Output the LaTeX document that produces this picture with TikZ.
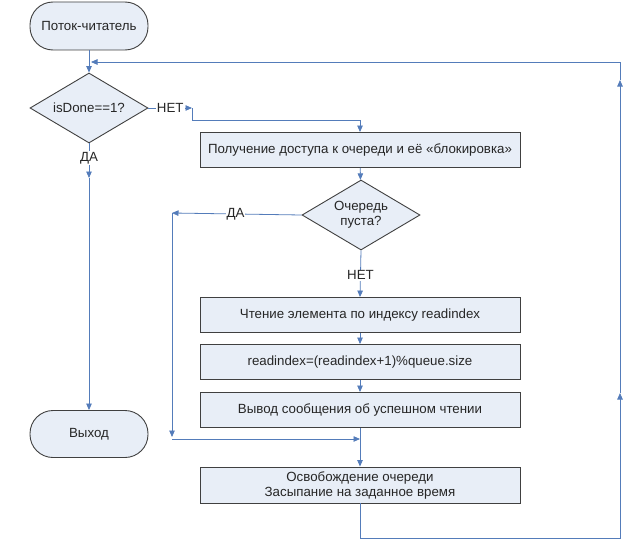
\documentclass[tikz,border=0pt]{standalone}
\usepackage{fontspec}
\setmainfont{Liberation Sans}
\usetikzlibrary{shapes.geometric}
\usetikzlibrary{arrows.meta}

\definecolor{boxfill}{RGB}{232,238,247}
\definecolor{boxline}{RGB}{64,64,64}
\definecolor{flowline}{RGB}{84,124,186}

\begin{document}
\begin{tikzpicture}[x=1pt,y=-1pt,
  every node/.style={font=\fontsize{13.3}{15}\selectfont, text=black!85},
  term/.style={draw=boxline, fill=boxfill, line width=0.9pt, rounded corners=23pt, minimum width=118pt, minimum height=48pt, inner sep=0pt},
  cond/.style={draw=boxline, fill=boxfill, line width=0.9pt, diamond, aspect=1.69, minimum width=118pt, minimum height=70pt, inner sep=0pt, align=center},
  proc/.style={draw=boxline, fill=boxfill, line width=0.9pt, minimum width=320pt, minimum height=35pt, inner sep=0pt, align=center},
  flow/.style={draw=flowline, line width=0.8pt, -{Triangle[length=6.5pt,width=5.5pt]}},
  lbl/.style={fill=white, inner sep=1pt}]
\useasboundingbox (0,0) rectangle (642,551);

\node[term] (start) at (89,26) {Поток-читатель};
\node[cond] (isdone) at (89,108) {isDone==1?};
\node[term, minimum height=47pt] (exit) at (89,434) {Выход};

\node[proc] (lock) at (360,150) {Получение доступа к очереди и её «блокировка»};
\node[cond] (empty) at (361,215) {Очередь\\пуста?};
\node[proc] (readel) at (360,315) {Чтение элемента по индексу readindex};
\node[proc] (incr) at (360,362) {readindex=(readindex+1)\%queue.size};
\node[proc] (msg) at (360,410) {Вывод сообщения об успешном чтении};
\node[proc, minimum height=36pt] (release) at (360,485) {Освобождение очереди\\Засыпание на заданное время};

\coordinate (net) at (192,108);
\coordinate (da) at (89,178);
\coordinate (dal) at (172,213);
\coordinate (dab) at (172,437);
\coordinate (join) at (360,439);
\coordinate (rb) at (620,538);
\coordinate (rm) at (620,393);
\coordinate (rt) at (620,80);
\coordinate (ret) at (91,62);

% isDone branch
\draw[flow] (start) -- (isdone);
\draw[flow] (isdone.east) -- node[lbl, pos=0.5] {НЕТ} (net);
\draw[flow] (net) |- (360,120) -- (lock.north);
\draw[flow] (isdone.south) -- node[lbl, pos=0.43] {ДА} (da);
\draw[flow] (da) -- (exit.north);

% reading the queue
\draw[flow] (lock) -- (empty);
\draw[flow] (empty.west) -- node[lbl, pos=0.51] {ДА} (dal);
\draw[flow] (dal) -- (dab);
\draw[flow] (172,439) -- (join);
\draw[flow] (empty.south) -- node[lbl, pos=0.53] {НЕТ} (readel.north);
\draw[flow] (readel) -- (incr);
\draw[flow] (incr) -- (msg);
\draw[flow] (msg) -- (release);

% back to the start
\draw[flow] (release.south) |- (rb) -- (rm);
\draw[flow] (rm) -- (rt);
\draw[flow] (rt) |- (ret);

\end{tikzpicture}
\end{document}
